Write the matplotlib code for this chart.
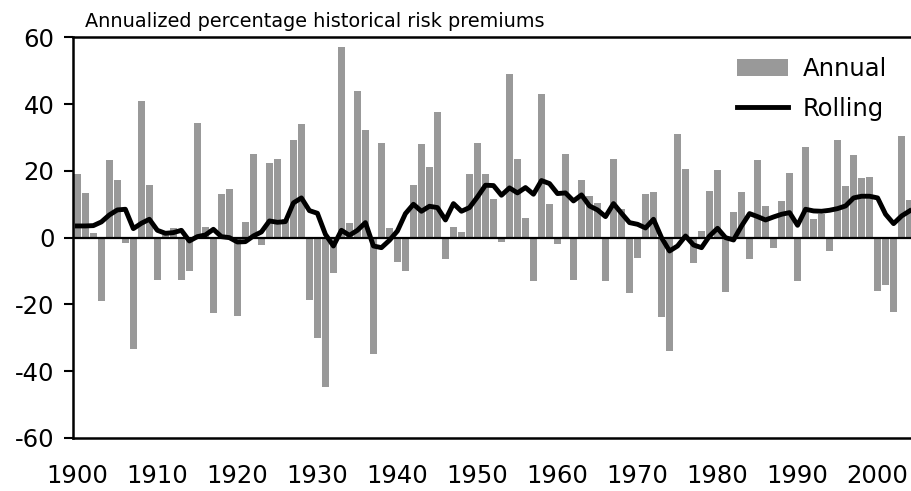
import numpy as np
import matplotlib
matplotlib.use("Agg")
import matplotlib.pyplot as plt
from matplotlib.patches import Patch
from matplotlib.lines import Line2D

years = np.arange(1900, 2005)

annual = [19.2, 13.4, 1.5, -19.1, 23.2, 17.4, -1.5, -33.5, 40.8, 15.8,
          -12.8, 0.8, 2.8, -12.6, -9.9, 34.4, 3.3, -22.5, 13.2, 14.5,
          -23.6, 4.7, 25.1, -2.2, 22.3, 23.5, 5.5, 29.3, 34.1, -18.6,
          -30.1, -44.6, -10.7, 57.2, 4.5, 44.0, 32.2, -34.9, 28.4, 3.0,
          -7.3, -9.9, 15.9, 28.1, 21.2, 37.7, -6.3, 3.3, 1.6, 19.2,
          28.2, 19.2, 11.7, -1.3, 49.0, 23.5, 5.8, -13.1, 43.0, 10.1,
          -1.9, 25.1, -12.6, 17.4, 12.4, 10.3, -12.9, 23.7, 8.7, -16.5,
          -6.2, 13.0, 13.8, -23.8, -33.9, 31.0, 20.6, -7.5, 2.0, 13.9,
          20.4, -16.2, 7.6, 13.6, -6.3, 23.2, 9.6, -3.2, 11.0, 19.4,
          -13.1, 27.2, 5.5, 7.2, -3.9, 29.3, 15.4, 24.9, 17.9, 18.2,
          -15.9, -14.3, -22.2, 30.5, 11.4]

rolling = [3.5, 3.5, 3.6, 4.7, 6.8, 8.3, 8.5, 2.7, 4.3, 5.5,
           2.2, 1.3, 1.5, 2.2, -1.0, 0.3, 0.8, 2.5, 0.3, 0.0,
           -1.3, -1.2, 0.5, 1.7, 5.0, 4.6, 4.8, 10.4, 11.9, 8.1,
           7.3, 1.0, -2.5, 2.2, 0.7, 2.2, 4.5, -2.5, -3.0, -0.8,
           2.0, 7.2, 10.0, 7.9, 9.4, 9.0, 5.3, 10.2, 7.9, 9.0,
           12.2, 15.7, 15.6, 12.7, 14.9, 13.4, 15.0, 13.0, 17.1, 16.2,
           13.2, 13.4, 11.0, 12.8, 9.5, 8.3, 6.3, 10.2, 7.3, 4.5,
           4.0, 2.9, 5.5, 0.0, -4.0, -2.5, 0.5, -2.2, -3.0, 0.5,
           2.8, 0.0, -0.7, 3.5, 7.2, 6.3, 5.3, 6.2, 7.0, 7.5,
           3.7, 8.5, 8.0, 7.9, 8.2, 8.7, 9.5, 11.9, 12.4, 12.4,
           11.9, 7.0, 4.2, 6.5, 8.0]

plt.rcParams['font.family'] = 'DejaVu Sans'
plt.rcParams['axes.unicode_minus'] = False

fig = plt.figure(figsize=(9.12, 4.91), dpi=100)
ax = fig.add_axes([0.0804, 0.108, 0.9196, 0.816])

ax.bar(years, annual, width=0.9, color='#999999', zorder=1)
ax.axhline(0, color='black', lw=1.6, zorder=2)
ax.plot(years, rolling, color='black', lw=3.5, solid_joinstyle='round', zorder=3)

ax.set_xlim(1899.5, 2004.3)
ax.set_ylim(-60, 60)
ax.set_yticks([-60, -40, -20, 0, 20, 40, 60])
ax.set_xticks(np.arange(1900, 2001, 10))
ax.tick_params(axis='y', length=6.5, width=1.5, pad=7, labelsize=17.5)
ax.tick_params(axis='x', length=0, pad=19, labelsize=17.5)

ax.spines['right'].set_visible(False)
for s in ['left', 'top', 'bottom']:
    ax.spines[s].set_linewidth(1.8)

handles = [Patch(facecolor='#999999'), Line2D([], [], color='black', lw=3.5)]
ax.legend(handles, ['Annual', 'Rolling'], loc='upper right', frameon=False,
          fontsize=17.5, handlelength=2.1, handletextpad=0.6, labelspacing=0.65,
          borderaxespad=0.0, bbox_to_anchor=(0.982, 0.975))

fig.text(85 / 912, 1 - 27 / 491, 'Annualized percentage historical risk premiums',
         fontsize=13.9, va='baseline', ha='left')

fig.savefig('out.png', dpi=100)
